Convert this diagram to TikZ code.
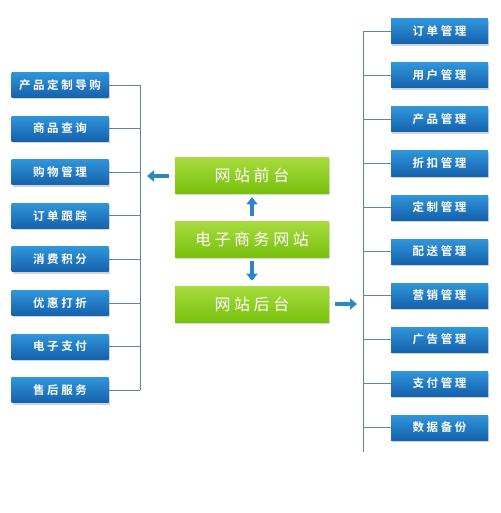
\documentclass[tikz,border=0pt]{standalone}
\usepackage{fontspec}
\newfontfamily\cjk{Noto Sans CJK SC}
\newfontfamily\cjkb{Noto Sans CJK SC Bold}
\usetikzlibrary{arrows.meta,shadows}
\definecolor{btop}{HTML}{2F95DA}
\definecolor{bbot}{HTML}{1561AC}
\definecolor{gtop}{HTML}{A8DB3E}
\definecolor{gbot}{HTML}{78C00E}
\definecolor{lnc}{HTML}{5A86A6}
\definecolor{arc}{HTML}{2A86C8}
\tikzset{
  bluebox/.style={minimum width=97pt,minimum height=25pt,inner sep=0pt,
    top color=btop,bottom color=bbot,draw=none,text=white,
    font=\cjkb\fontsize{11.5}{13}\selectfont,
    drop shadow={shadow xshift=1.2pt,shadow yshift=-1.8pt,opacity=0.35}},
  greenbox/.style={minimum width=154pt,minimum height=36pt,inner sep=0pt,
    top color=gtop,bottom color=gbot,draw=none,text=white,
    font=\cjk\fontsize{16}{18}\selectfont,
    drop shadow={shadow xshift=1.2pt,shadow yshift=-1.8pt,opacity=0.3}},
  conn/.style={draw=lnc,line width=0.8pt},
  blockarrow/.style={draw=arc,line width=4.5pt,-{Triangle[width=11pt,length=7pt]}},
}
\begin{document}
\begin{tikzpicture}[x=1pt,y=-1pt]
\useasboundingbox (0,0) rectangle (500,513);
% left column
\foreach \t [count=\i] in {产品定制导购,商品查询,购物管理,订单跟踪,消费积分,优惠打折,电子支付,售后服务}{
  \node[bluebox] (L\i) at (60,{85+43.6*(\i-1)}) {\addfontfeature{LetterSpace=22}\t\hspace{-2.5pt}};
  \coordinate (LJ\i) at (140,{85+43.6*(\i-1)});
  \draw[conn] (L\i.east) -- (LJ\i);
}
\draw[conn] (LJ1) -- (LJ8);
% right column
\foreach \t [count=\i] in {订单管理,用户管理,产品管理,折扣管理,定制管理,配送管理,营销管理,广告管理,支付管理,数据备份}{
  \node[bluebox] (R\i) at (439.5,{31.5+44*(\i-1)}) {\addfontfeature{LetterSpace=22}\t\hspace{-2.5pt}};
  \coordinate (RJ\i) at (363,{31.5+44*(\i-1)});
  \draw[conn] (RJ\i) -- (R\i.west);
}
\coordinate (Rend) at (363,452);
\draw[conn] (RJ1) -- (Rend);
% centre
\node[greenbox] (front) at (252,175) {\addfontfeature{LetterSpace=22}网站前台\hspace{-3.5pt}};
\node[greenbox] (site) at (252,239.5) {\addfontfeature{LetterSpace=22}电子商务网站\hspace{-3.5pt}};
\node[greenbox] (back) at (252,304) {\addfontfeature{LetterSpace=22}网站后台\hspace{-3.5pt}};
\draw[blockarrow] (site.north) ++(0,-5) coordinate (a1) -- ++(0,-19) coordinate (a2);
\draw[blockarrow] (site.south) ++(0,3) -- ++(0,20);
\coordinate (la1) at (169,176); \coordinate (la2) at (147,176);
\draw[blockarrow] (la1) -- (la2);
\coordinate (ra1) at (335,304); \coordinate (ra2) at (357,304);
\draw[blockarrow] (ra1) -- (ra2);
\end{tikzpicture}
\end{document}
